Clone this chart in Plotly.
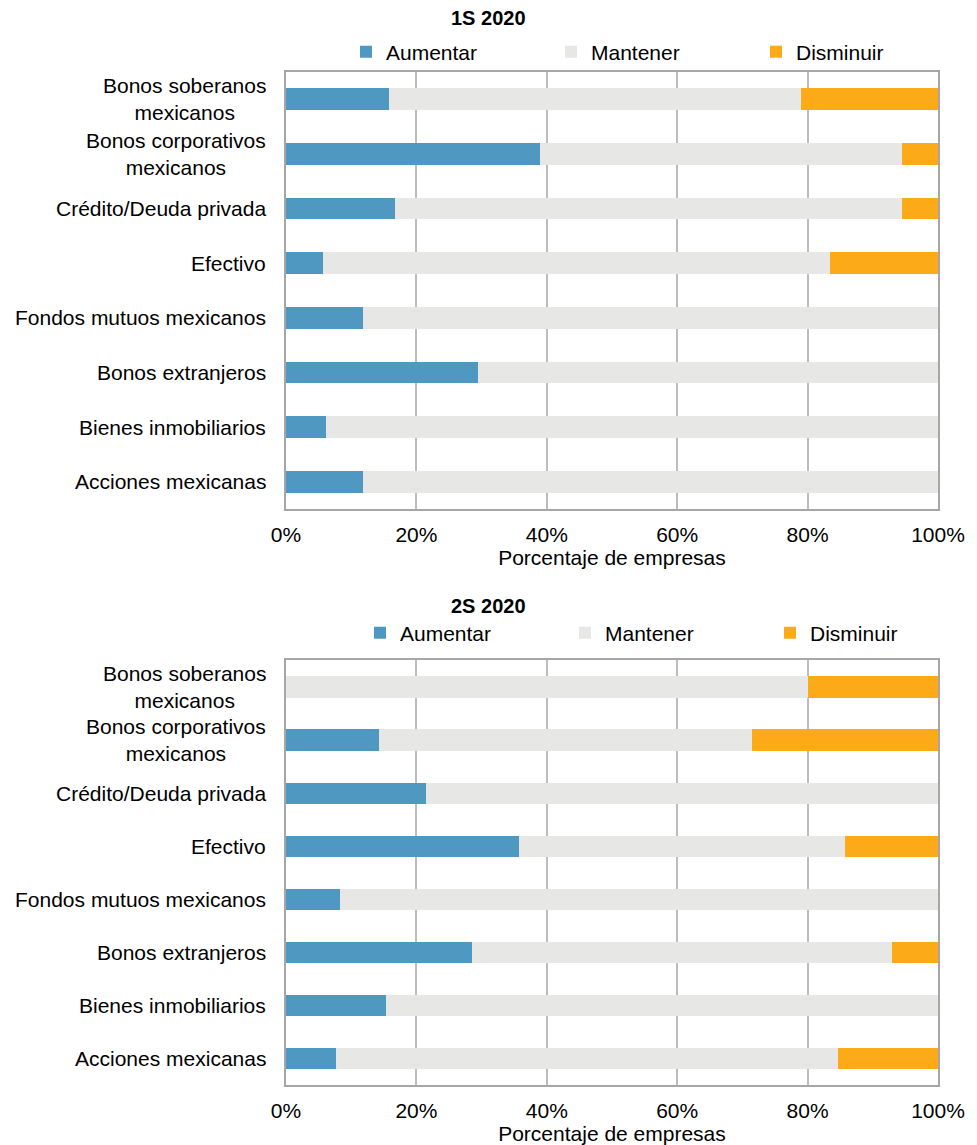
import plotly.graph_objects as go

categories = [
    "Bonos soberanos<br>mexicanos",
    "Bonos corporativos<br>mexicanos",
    "Crédito/Deuda privada",
    "Efectivo",
    "Fondos mutuos mexicanos",
    "Bonos extranjeros",
    "Bienes inmobiliarios",
    "Acciones mexicanas",
]

# 1S 2020 (% de empresas)
s1_aumentar = [15.8, 38.9, 16.7, 5.6, 11.8, 29.4, 6.2, 11.8]
s1_mantener = [63.2, 55.6, 77.8, 77.8, 88.2, 70.6, 93.8, 88.2]
s1_disminuir = [21.0, 5.5, 5.5, 16.6, 0.0, 0.0, 0.0, 0.0]

# 2S 2020 (% de empresas)
s2_aumentar = [0.0, 14.3, 21.4, 35.7, 8.3, 28.6, 15.4, 7.7]
s2_mantener = [80.0, 57.1, 78.6, 50.0, 91.7, 64.3, 84.6, 76.9]
s2_disminuir = [20.0, 28.6, 0.0, 14.3, 0.0, 7.1, 0.0, 15.4]

series_names = ["Aumentar", "Mantener", "Disminuir"]
colors = ["#4F98C2", "#E7E8E6", "#FDAA19"]
x_ticks = [0, 20, 40, 60, 80, 100]
x_tick_text = ["0%", "20%", "40%", "60%", "80%", "100%"]
panel_titles = ["1S 2020", "2S 2020"]
x_title = "Porcentaje de empresas"

FONT = "Liberation Sans, Arial, sans-serif"
FS = 21
W, H = 977, 1145

def py(px):
    return 1 - px / H

fig = go.Figure()

panels = [
    (s1_aumentar, s1_mantener, s1_disminuir),
    (s2_aumentar, s2_mantener, s2_disminuir),
]
suffix = ["", "2"]
legend_ids = ["legend", "legend2"]

for p, vals in enumerate(panels):
    for name, v, c in zip(series_names, vals, colors):
        fig.add_trace(go.Bar(
            y=categories, x=v, name=name, orientation="h",
            marker=dict(color=c, line=dict(width=0)),
            xaxis="x" + suffix[p], yaxis="y" + suffix[p],
            legend=legend_ids[p], hoverinfo="x+y+name",
        ))

x_left, x_right = 286, 938
dom_x = [x_left / W, x_right / W]
panel_px = [(72, 509), (660, 1085)]

axis_common = dict(
    range=[0, 100], tickvals=x_ticks, ticktext=x_tick_text,
    showgrid=True, gridcolor="#BDBDBD", gridwidth=2,
    showline=True, linecolor="#A6A6A6", linewidth=2, mirror=True,
    zeroline=False, ticks="", ticklen=0, ticklabelstandoff=6,
    tickfont=dict(family=FONT, size=FS, color="#000000"),
    title=dict(text=x_title, font=dict(family=FONT, size=FS, color="#000000"), standoff=0),
    fixedrange=True,
)

for p, (top, bot) in enumerate(panel_px):
    xa = dict(axis_common, domain=dom_x, anchor="y" + suffix[p])
    ya = dict(
        domain=[py(bot), py(top)], anchor="x" + suffix[p],
        type="category", categoryorder="array", categoryarray=categories,
        autorange="reversed", showticklabels=False, ticks="",
        showgrid=False, showline=True, linecolor="#A6A6A6", linewidth=2, mirror=True,
        fixedrange=True,
    )
    fig.layout["xaxis" + suffix[p]] = xa
    fig.layout["yaxis" + suffix[p]] = ya

    # category labels, block right-aligned with centred lines
    for cat in categories:
        fig.add_annotation(
            x=(x_left - 18) / W, xref="paper", xanchor="right",
            y=cat, yref="y" + suffix[p], yanchor="middle",
            text=cat, showarrow=False, align="center",
            font=dict(family=FONT, size=FS, color="#000000"),
        )

    # panel title
    fig.add_annotation(
        x=0.5, xref="paper", xanchor="center",
        y=py(top - 54), yref="paper", yanchor="middle",
        text="<b>" + panel_titles[p] + "</b>", showarrow=False,
        font=dict(family=FONT, size=20, color="#000000"),
    )

legend_common = dict(
    orientation="h", xanchor="left", yanchor="middle",
    font=dict(family=FONT, size=FS, color="#000000"),
    bgcolor="rgba(0,0,0,0)", itemwidth=30,
    entrywidth=160, entrywidthmode="pixels",
    traceorder="normal", tracegroupgap=0,
    itemclick=False, itemdoubleclick=False,
)

fig.update_layout(
    width=W, height=H,
    margin=dict(l=0, r=0, t=0, b=0, autoexpand=False),
    paper_bgcolor="white", plot_bgcolor="white",
    barmode="stack", bargap=0.6,
    showlegend=True,
    legend=dict(legend_common, x=346 / W, y=py(52)),
    legend2=dict(legend_common, x=360 / W, y=py(633)),
)

fig.write_html("out.html")
